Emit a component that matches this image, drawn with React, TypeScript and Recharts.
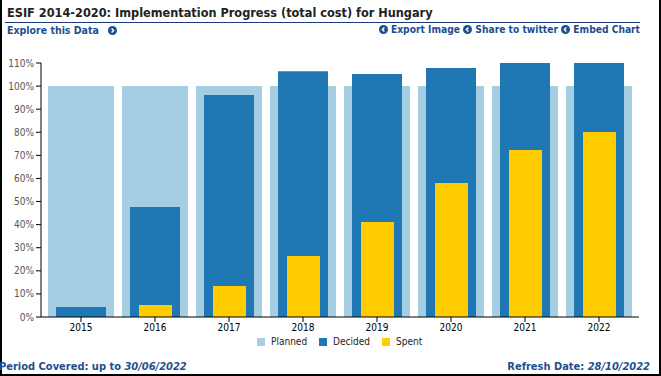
import React from 'react';
import { BarChart, Bar, XAxis, YAxis } from 'recharts';

const years = ['2015', '2016', '2017', '2018', '2019', '2020', '2021', '2022'];
const planned = [100, 100, 100, 100, 100, 100, 100, 100];
const decided = [4.3, 47.6, 96.1, 106.4, 105.2, 107.8, 110.3, 110.3];
const spent = [0, 5.2, 13.4, 26.4, 41.1, 58.0, 72.3, 80.1];
const yTicks = [0, 10, 20, 30, 40, 50, 60, 70, 80, 90, 100, 110];
const legendItems = [
  { name: 'Planned', color: '#a6cee3' },
  { name: 'Decided', color: '#1f78b4' },
  { name: 'Spent', color: '#ffcc00' },
];

const data = years.map((y, i) => ({ year: y, planned: planned[i], decided: decided[i], spent: spent[i] }));

const FONT = '"DejaVu Sans Condensed", "DejaVu Sans", sans-serif';
const BLUE = '#1c4f8e';

const Icon = ({ dir }: { dir: 'left' | 'right' }) => (
  <svg width={9} height={9} viewBox="0 0 10 10" style={{ display: 'inline-block', verticalAlign: 'middle', marginTop: -2 }}>
    <circle cx={5} cy={5} r={5} fill={BLUE} />
    {dir === 'right' ? (
      <polyline points="4,2.8 6.2,5 4,7.2" fill="none" stroke="#fff" strokeWidth={1.6} />
    ) : (
      <polyline points="6,2.8 3.8,5 6,7.2" fill="none" stroke="#fff" strokeWidth={1.6} />
    )}
  </svg>
);

export default function App() {
  return (
    <div style={{ position: 'absolute', left: 0, top: 0, width: 661, height: 376, background: '#fff', fontFamily: FONT, overflow: 'hidden' }}>
      <div style={{ position: 'absolute', left: 0, top: 0, width: 657, height: 374, borderLeft: '2px solid #000', borderRight: '2px solid #000', borderBottom: '2px solid #000' }} />
      <div style={{ position: 'absolute', left: 7, top: 5, fontSize: 12.6, fontWeight: 'bold', color: '#222', whiteSpace: 'nowrap' }}>
        ESIF 2014-2020: Implementation Progress (total cost) for Hungary
      </div>
      <div style={{ position: 'absolute', left: 5, top: 22, width: 635, height: 1, background: '#1a3a80' }} />
      <div style={{ position: 'absolute', left: 7, top: 24, fontSize: 10.5, fontWeight: 'bold', color: BLUE, whiteSpace: 'nowrap' }}>
        Explore this Data <span style={{ marginLeft: 6 }}><Icon dir="right" /></span>
      </div>
      <div style={{ position: 'absolute', right: 21, top: 24, fontSize: 10.2, fontWeight: 'bold', color: BLUE, whiteSpace: 'nowrap' }}>
        <Icon dir="left" /> Export Image <Icon dir="left" /> Share to twitter <Icon dir="left" /> Embed Chart
      </div>
      <div style={{ position: 'absolute', left: 0, top: 0 }}>
        <BarChart width={661} height={376} data={data} margin={{ top: 63, right: 22, bottom: 13, left: 0 }}>
          <XAxis
            xAxisId={0}
            dataKey="year"
            axisLine={{ stroke: '#000' }}
            tickLine={{ stroke: '#000' }}
            tickSize={5}
            tick={{ fill: '#000', fontSize: 10, fontFamily: FONT }}
            padding={{ left: 3, right: 3 }}
            height={46}
            interval={0}
          />
          <XAxis xAxisId={1} dataKey="year" hide padding={{ left: 3, right: 3 }} />
          <XAxis xAxisId={2} dataKey="year" hide padding={{ left: 3, right: 3 }} />
          <YAxis
            domain={[0, 110]}
            ticks={yTicks}
            interval={0}
            width={41}
            axisLine={{ stroke: '#000' }}
            tickLine={{ stroke: '#000' }}
            tickSize={5}
            tickFormatter={(v: number) => `${v}%`}
            tick={{ fill: '#555', fontSize: 10, fontFamily: FONT }}
            allowDataOverflow
          />
          <Bar xAxisId={0} dataKey="planned" name="Planned" fill="#a6cee3" barSize={66} isAnimationActive={false} />
          <Bar xAxisId={1} dataKey="decided" name="Decided" fill="#1f78b4" barSize={50} isAnimationActive={false} />
          <Bar xAxisId={2} dataKey="spent" name="Spent" fill="#ffcc00" barSize={33} isAnimationActive={false} />
        </BarChart>
      </div>
      <div style={{ position: 'absolute', left: 257, top: 336, display: 'flex', alignItems: 'center', fontSize: 10, color: '#222' }}>
        {legendItems.map((it) => (
          <div key={it.name} style={{ display: 'flex', alignItems: 'center', marginRight: 12 }}>
            <div style={{ width: 8, height: 8, background: it.color, marginRight: 6 }} />
            <span>{it.name}</span>
          </div>
        ))}
      </div>
      <div style={{ position: 'absolute', left: -1, top: 360, fontSize: 11, fontWeight: 'bold', color: BLUE, whiteSpace: 'nowrap' }}>
        Period Covered: up to <i>30/06/2022</i>
      </div>
      <div style={{ position: 'absolute', right: 11, top: 360, fontSize: 11, fontWeight: 'bold', color: BLUE, whiteSpace: 'nowrap' }}>
        Refresh Date: <i>28/10/2022</i>
      </div>
    </div>
  );
}
